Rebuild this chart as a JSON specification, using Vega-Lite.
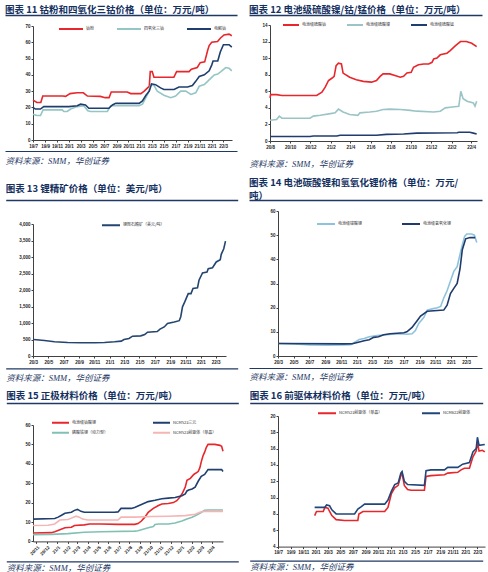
{
"$schema":"https://vega.github.io/schema/vega-lite/v6.json",
"padding":{"left":5,"top":4,"right":0,"bottom":0},
"background":"white",
"spacing":9,
"resolve":{"scale":{"color":"independent"},"legend":{"color":"independent"}},
"datasets":{
"u":[{"u":0},{"u":1}],
"p11":[
{"d":"2019-07-01","s":"钴粉","v":24.5},{"d":"2019-07-21","s":"钴粉","v":23},{"d":"2019-08-10","s":"钴粉","v":23},{"d":"2019-08-20","s":"钴粉","v":27},{"d":"2019-12-01","s":"钴粉","v":27},{"d":"2019-12-15","s":"钴粉","v":26.8},{"d":"2020-01-07","s":"钴粉","v":28.5},{"d":"2020-02-12","s":"钴粉","v":29},{"d":"2020-03-15","s":"钴粉","v":29},{"d":"2020-04-05","s":"钴粉","v":27},{"d":"2020-06-10","s":"钴粉","v":26.8},{"d":"2020-07-05","s":"钴粉","v":26},{"d":"2020-07-25","s":"钴粉","v":26},{"d":"2020-08-05","s":"钴粉","v":29.5},{"d":"2020-10-26","s":"钴粉","v":29.5},{"d":"2020-11-13","s":"钴粉","v":28.5},{"d":"2021-01-04","s":"钴粉","v":28.5},{"d":"2021-01-21","s":"钴粉","v":30},{"d":"2021-02-07","s":"钴粉","v":32},{"d":"2021-02-16","s":"钴粉","v":33},{"d":"2021-02-21","s":"钴粉","v":42},{"d":"2021-03-03","s":"钴粉","v":42},{"d":"2021-03-12","s":"钴粉","v":38.5},{"d":"2021-06-22","s":"钴粉","v":38.5},{"d":"2021-07-06","s":"钴粉","v":42},{"d":"2021-09-08","s":"钴粉","v":42},{"d":"2021-09-20","s":"钴粉","v":43.5},{"d":"2021-10-20","s":"钴粉","v":44.5},{"d":"2021-11-04","s":"钴粉","v":47.5},{"d":"2021-11-27","s":"钴粉","v":48},{"d":"2021-12-12","s":"钴粉","v":55},{"d":"2021-12-20","s":"钴粉","v":58},{"d":"2022-01-02","s":"钴粉","v":60},{"d":"2022-02-01","s":"钴粉","v":60.5},{"d":"2022-02-15","s":"钴粉","v":62.5},{"d":"2022-03-06","s":"钴粉","v":64.5},{"d":"2022-04-01","s":"钴粉","v":65},{"d":"2022-04-15","s":"钴粉","v":64},
{"d":"2019-07-01","s":"四氧化三钴","v":15.8},{"d":"2019-07-21","s":"四氧化三钴","v":15},{"d":"2019-08-08","s":"四氧化三钴","v":15},{"d":"2019-08-22","s":"四氧化三钴","v":18.5},{"d":"2019-11-28","s":"四氧化三钴","v":18.5},{"d":"2019-12-06","s":"四氧化三钴","v":17.5},{"d":"2019-12-23","s":"四氧化三钴","v":17.5},{"d":"2020-01-10","s":"四氧化三钴","v":19},{"d":"2020-02-13","s":"四氧化三钴","v":20.5},{"d":"2020-03-17","s":"四氧化三钴","v":21},{"d":"2020-04-07","s":"四氧化三钴","v":18},{"d":"2020-04-21","s":"四氧化三钴","v":17.5},{"d":"2020-07-16","s":"四氧化三钴","v":17.5},{"d":"2020-08-02","s":"四氧化三钴","v":21},{"d":"2020-12-26","s":"四氧化三钴","v":21},{"d":"2021-01-12","s":"四氧化三钴","v":22},{"d":"2021-01-21","s":"四氧化三钴","v":24},{"d":"2021-02-07","s":"四氧化三钴","v":28},{"d":"2021-02-24","s":"四氧化三钴","v":34},{"d":"2021-03-12","s":"四氧化三钴","v":33.5},{"d":"2021-03-29","s":"四氧化三钴","v":30},{"d":"2021-05-02","s":"四氧化三钴","v":27.5},{"d":"2021-06-06","s":"四氧化三钴","v":26},{"d":"2021-07-01","s":"四氧化三钴","v":27},{"d":"2021-07-27","s":"四氧化三钴","v":30},{"d":"2021-08-22","s":"四氧化三钴","v":30},{"d":"2021-09-17","s":"四氧化三钴","v":28},{"d":"2021-10-12","s":"四氧化三钴","v":29},{"d":"2021-10-30","s":"四氧化三钴","v":33},{"d":"2021-11-25","s":"四氧化三钴","v":34},{"d":"2021-12-12","s":"四氧化三钴","v":36},{"d":"2021-12-29","s":"四氧化三钴","v":38},{"d":"2022-01-15","s":"四氧化三钴","v":40},{"d":"2022-02-02","s":"四氧化三钴","v":40.5},{"d":"2022-02-18","s":"四氧化三钴","v":42},{"d":"2022-03-15","s":"四氧化三钴","v":44.5},{"d":"2022-04-01","s":"四氧化三钴","v":44},{"d":"2022-04-15","s":"四氧化三钴","v":42.5},
{"d":"2019-07-01","s":"电解钴","v":20},{"d":"2019-07-13","s":"电解钴","v":19},{"d":"2019-08-08","s":"电解钴","v":19},{"d":"2019-08-25","s":"电解钴","v":20.5},{"d":"2020-01-01","s":"电解钴","v":20.5},{"d":"2020-02-13","s":"电解钴","v":21},{"d":"2020-03-01","s":"电解钴","v":22},{"d":"2020-03-26","s":"电解钴","v":21.5},{"d":"2020-04-12","s":"电解钴","v":19.5},{"d":"2020-07-24","s":"电解钴","v":19.5},{"d":"2020-08-11","s":"电解钴","v":21.5},{"d":"2020-08-28","s":"电解钴","v":22.5},{"d":"2020-12-26","s":"电解钴","v":22.5},{"d":"2021-01-12","s":"电解钴","v":24},{"d":"2021-01-30","s":"电解钴","v":27.5},{"d":"2021-02-16","s":"电解钴","v":30},{"d":"2021-02-28","s":"电解钴","v":34.5},{"d":"2021-03-20","s":"电解钴","v":34},{"d":"2021-04-15","s":"电解钴","v":32},{"d":"2021-05-02","s":"电解钴","v":31},{"d":"2021-06-23","s":"电解钴","v":31},{"d":"2021-07-18","s":"电解钴","v":32.5},{"d":"2021-08-31","s":"电解钴","v":32.5},{"d":"2021-09-25","s":"电解钴","v":33.5},{"d":"2021-10-12","s":"电解钴","v":36},{"d":"2021-10-30","s":"电解钴","v":39},{"d":"2021-11-25","s":"电解钴","v":40},{"d":"2021-12-20","s":"电解钴","v":42.5},{"d":"2022-01-02","s":"电解钴","v":46},{"d":"2022-01-09","s":"电解钴","v":48.5},{"d":"2022-02-02","s":"电解钴","v":48.5},{"d":"2022-02-15","s":"电解钴","v":54},{"d":"2022-03-03","s":"电解钴","v":58.5},{"d":"2022-04-01","s":"电解钴","v":58.5},{"d":"2022-04-15","s":"电解钴","v":57}
],
"p12":[
{"d":"2020-08-01","s":"电池级硫酸钴","v":5.2},{"d":"2020-08-03","s":"电池级硫酸钴","v":5.6},{"d":"2020-08-21","s":"电池级硫酸钴","v":5.6},{"d":"2020-09-06","s":"电池级硫酸钴","v":5.5},{"d":"2020-10-11","s":"电池级硫酸钴","v":5.5},{"d":"2020-11-30","s":"电池级硫酸钴","v":5.5},{"d":"2020-12-20","s":"电池级硫酸钴","v":5.5},{"d":"2021-01-05","s":"电池级硫酸钴","v":5.9},{"d":"2021-01-15","s":"电池级硫酸钴","v":6.5},{"d":"2021-01-25","s":"电池级硫酸钴","v":7.3},{"d":"2021-02-05","s":"电池级硫酸钴","v":7.6},{"d":"2021-02-11","s":"电池级硫酸钴","v":7.8},{"d":"2021-02-17","s":"电池级硫酸钴","v":9.1},{"d":"2021-02-24","s":"电池级硫酸钴","v":9.4},{"d":"2021-03-05","s":"电池级硫酸钴","v":9.3},{"d":"2021-03-10","s":"电池级硫酸钴","v":8.2},{"d":"2021-03-30","s":"电池级硫酸钴","v":7.7},{"d":"2021-04-19","s":"电池级硫酸钴","v":7.4},{"d":"2021-05-10","s":"电池级硫酸钴","v":7.2},{"d":"2021-06-04","s":"电池级硫酸钴","v":7.1},{"d":"2021-06-19","s":"电池级硫酸钴","v":7.3},{"d":"2021-06-30","s":"电池级硫酸钴","v":7.8},{"d":"2021-07-09","s":"电池级硫酸钴","v":8.1},{"d":"2021-07-29","s":"电池级硫酸钴","v":8.1},{"d":"2021-08-14","s":"电池级硫酸钴","v":7.9},{"d":"2021-08-30","s":"电池级硫酸钴","v":7.7},{"d":"2021-09-09","s":"电池级硫酸钴","v":7.8},{"d":"2021-09-19","s":"电池级硫酸钴","v":8.2},{"d":"2021-10-02","s":"电池级硫酸钴","v":8.3},{"d":"2021-10-09","s":"电池级硫酸钴","v":8.9},{"d":"2021-10-24","s":"电池级硫酸钴","v":9.2},{"d":"2021-11-09","s":"电池级硫酸钴","v":9.3},{"d":"2021-11-24","s":"电池级硫酸钴","v":9.3},{"d":"2021-12-04","s":"电池级硫酸钴","v":9.5},{"d":"2021-12-09","s":"电池级硫酸钴","v":9.9},{"d":"2021-12-19","s":"电池级硫酸钴","v":10.0},{"d":"2021-12-29","s":"电池级硫酸钴","v":10.4},{"d":"2022-01-18","s":"电池级硫酸钴","v":10.6},{"d":"2022-01-28","s":"电池级硫酸钴","v":10.9},{"d":"2022-02-13","s":"电池级硫酸钴","v":11.5},{"d":"2022-02-28","s":"电池级硫酸钴","v":12.0},{"d":"2022-03-18","s":"电池级硫酸钴","v":12.0},{"d":"2022-04-03","s":"电池级硫酸钴","v":11.8},{"d":"2022-04-18","s":"电池级硫酸钴","v":11.4},
{"d":"2020-08-01","s":"电池级硫酸镍","v":2.5},{"d":"2020-08-21","s":"电池级硫酸镍","v":2.6},{"d":"2020-08-29","s":"电池级硫酸镍","v":3.0},{"d":"2020-09-06","s":"电池级硫酸镍","v":2.75},{"d":"2020-11-30","s":"电池级硫酸镍","v":2.75},{"d":"2020-12-10","s":"电池级硫酸镍","v":3.0},{"d":"2020-12-31","s":"电池级硫酸镍","v":3.1},{"d":"2021-01-31","s":"电池级硫酸镍","v":3.3},{"d":"2021-02-14","s":"电池级硫酸镍","v":3.4},{"d":"2021-02-24","s":"电池级硫酸镍","v":3.85},{"d":"2021-03-10","s":"电池级硫酸镍","v":3.5},{"d":"2021-03-30","s":"电池级硫酸镍","v":3.2},{"d":"2021-04-24","s":"电池级硫酸镍","v":3.1},{"d":"2021-04-30","s":"电池级硫酸镍","v":3.4},{"d":"2021-05-30","s":"电池级硫酸镍","v":3.5},{"d":"2021-06-19","s":"电池级硫酸镍","v":3.6},{"d":"2021-07-09","s":"电池级硫酸镍","v":3.8},{"d":"2021-07-29","s":"电池级硫酸镍","v":3.85},{"d":"2021-08-30","s":"电池级硫酸镍","v":3.8},{"d":"2021-09-29","s":"电池级硫酸镍","v":3.7},{"d":"2021-10-19","s":"电池级硫酸镍","v":3.6},{"d":"2021-12-09","s":"电池级硫酸镍","v":3.5},{"d":"2021-12-29","s":"电池级硫酸镍","v":3.6},{"d":"2022-01-13","s":"电池级硫酸镍","v":4.0},{"d":"2022-02-03","s":"电池级硫酸镍","v":4.1},{"d":"2022-02-23","s":"电池级硫酸镍","v":4.2},{"d":"2022-03-01","s":"电池级硫酸镍","v":6.0},{"d":"2022-03-08","s":"电池级硫酸镍","v":5.1},{"d":"2022-03-20","s":"电池级硫酸镍","v":4.8},{"d":"2022-04-08","s":"电池级硫酸镍","v":4.6},{"d":"2022-04-13","s":"电池级硫酸镍","v":4.2},{"d":"2022-04-18","s":"电池级硫酸镍","v":4.8},
{"d":"2020-08-01","s":"电池级硫酸锰","v":0.55},{"d":"2020-11-30","s":"电池级硫酸锰","v":0.55},{"d":"2020-12-10","s":"电池级硫酸锰","v":0.6},{"d":"2021-02-19","s":"电池级硫酸锰","v":0.6},{"d":"2021-03-01","s":"电池级硫酸锰","v":0.7},{"d":"2021-06-19","s":"电池级硫酸锰","v":0.7},{"d":"2021-07-19","s":"电池级硫酸锰","v":0.8},{"d":"2021-09-09","s":"电池级硫酸锰","v":0.85},{"d":"2021-10-19","s":"电池级硫酸锰","v":0.95},{"d":"2022-02-18","s":"电池级硫酸锰","v":1.0},{"d":"2022-02-23","s":"电池级硫酸锰","v":1.05},{"d":"2022-03-28","s":"电池级硫酸锰","v":1.05},{"d":"2022-04-08","s":"电池级硫酸锰","v":0.95},{"d":"2022-04-18","s":"电池级硫酸锰","v":0.85}
],
"p13":[
{"d":"2020-03-03","s":"锂辉石精矿（美元/吨）","v":500},{"d":"2020-04-16","s":"锂辉石精矿（美元/吨）","v":470},{"d":"2020-05-26","s":"锂辉石精矿（美元/吨）","v":430},{"d":"2020-07-18","s":"锂辉石精矿（美元/吨）","v":410},{"d":"2020-09-10","s":"锂辉石精矿（美元/吨）","v":400},{"d":"2020-11-02","s":"锂辉石精矿（美元/吨）","v":400},{"d":"2020-12-12","s":"锂辉石精矿（美元/吨）","v":410},{"d":"2021-01-21","s":"锂辉石精矿（美元/吨）","v":430},{"d":"2021-02-17","s":"锂辉石精矿（美元/吨）","v":450},{"d":"2021-02-28","s":"锂辉石精矿（美元/吨）","v":500},{"d":"2021-03-20","s":"锂辉石精矿（美元/吨）","v":530},{"d":"2021-04-03","s":"锂辉石精矿（美元/吨）","v":600},{"d":"2021-05-06","s":"锂辉石精矿（美元/吨）","v":610},{"d":"2021-05-22","s":"锂辉石精矿（美元/吨）","v":650},{"d":"2021-06-02","s":"锂辉石精矿（美元/吨）","v":720},{"d":"2021-07-11","s":"锂辉石精矿（美元/吨）","v":740},{"d":"2021-07-22","s":"锂辉石精矿（美元/吨）","v":815},{"d":"2021-08-08","s":"锂辉石精矿（美元/吨）","v":880},{"d":"2021-08-21","s":"锂辉石精矿（美元/吨）","v":985},{"d":"2021-09-17","s":"锂辉石精矿（美元/吨）","v":1030},{"d":"2021-10-07","s":"锂辉石精矿（美元/吨）","v":1070},{"d":"2021-10-13","s":"锂辉石精矿（美元/吨）","v":1190},{"d":"2021-10-20","s":"锂辉石精矿（美元/吨）","v":1490},{"d":"2021-10-29","s":"锂辉石精矿（美元/吨）","v":1640},{"d":"2021-11-12","s":"锂辉石精矿（美元/吨）","v":1890},{"d":"2021-11-23","s":"锂辉石精矿（美元/吨）","v":1890},{"d":"2021-12-01","s":"锂辉石精矿（美元/吨）","v":2045},{"d":"2021-12-19","s":"锂辉石精矿（美元/吨）","v":2065},{"d":"2021-12-25","s":"锂辉石精矿（美元/吨）","v":2295},{"d":"2022-01-08","s":"锂辉石精矿（美元/吨）","v":2515},{"d":"2022-01-26","s":"锂辉石精矿（美元/吨）","v":2545},{"d":"2022-01-31","s":"锂辉石精矿（美元/吨）","v":2645},{"d":"2022-02-17","s":"锂辉石精矿（美元/吨）","v":2675},{"d":"2022-03-04","s":"锂辉石精矿（美元/吨）","v":2850},{"d":"2022-03-20","s":"锂辉石精矿（美元/吨）","v":2915},{"d":"2022-03-24","s":"锂辉石精矿（美元/吨）","v":3080},{"d":"2022-04-03","s":"锂辉石精矿（美元/吨）","v":3250},{"d":"2022-04-10","s":"锂辉石精矿（美元/吨）","v":3480}
],
"p14":[
{"d":"2020-03-04","s":"电池级碳酸锂","v":5.2},{"d":"2020-05-02","s":"电池级碳酸锂","v":5.0},{"d":"2020-07-05","s":"电池级碳酸锂","v":4.6},{"d":"2020-09-08","s":"电池级碳酸锂","v":4.5},{"d":"2020-11-12","s":"电池级碳酸锂","v":4.6},{"d":"2020-12-08","s":"电池级碳酸锂","v":4.7},{"d":"2020-12-21","s":"电池级碳酸锂","v":5.5},{"d":"2021-01-10","s":"电池级碳酸锂","v":6.8},{"d":"2021-01-29","s":"电池级碳酸锂","v":7.2},{"d":"2021-02-18","s":"电池级碳酸锂","v":8.0},{"d":"2021-03-20","s":"电池级碳酸锂","v":8.5},{"d":"2021-04-28","s":"电池级碳酸锂","v":8.8},{"d":"2021-05-17","s":"电池级碳酸锂","v":9.0},{"d":"2021-06-19","s":"电池级碳酸锂","v":9.2},{"d":"2021-07-14","s":"电池级碳酸锂","v":9.0},{"d":"2021-08-03","s":"电池级碳酸锂","v":9.2},{"d":"2021-08-16","s":"电池级碳酸锂","v":10.5},{"d":"2021-08-29","s":"电池级碳酸锂","v":13.5},{"d":"2021-09-18","s":"电池级碳酸锂","v":16},{"d":"2021-10-01","s":"电池级碳酸锂","v":19},{"d":"2021-10-20","s":"电池级碳酸锂","v":19.5},{"d":"2021-11-09","s":"电池级碳酸锂","v":20},{"d":"2021-11-22","s":"电池级碳酸锂","v":20.5},{"d":"2021-12-04","s":"电池级碳酸锂","v":24},{"d":"2021-12-17","s":"电池级碳酸锂","v":27},{"d":"2021-12-30","s":"电池级碳酸锂","v":31},{"d":"2022-01-12","s":"电池级碳酸锂","v":35},{"d":"2022-01-25","s":"电池级碳酸锂","v":37},{"d":"2022-02-05","s":"电池级碳酸锂","v":42},{"d":"2022-02-14","s":"电池级碳酸锂","v":46},{"d":"2022-02-23","s":"电池级碳酸锂","v":49.5},{"d":"2022-03-03","s":"电池级碳酸锂","v":50.5},{"d":"2022-03-22","s":"电池级碳酸锂","v":50.5},{"d":"2022-04-02","s":"电池级碳酸锂","v":50},{"d":"2022-04-11","s":"电池级碳酸锂","v":47},
{"d":"2020-03-04","s":"电池级氢氧化锂","v":5.2},{"d":"2020-11-12","s":"电池级氢氧化锂","v":5.0},{"d":"2020-12-14","s":"电池级氢氧化锂","v":5.1},{"d":"2021-01-03","s":"电池级氢氧化锂","v":5.6},{"d":"2021-01-29","s":"电池级氢氧化锂","v":6.3},{"d":"2021-02-18","s":"电池级氢氧化锂","v":6.7},{"d":"2021-03-07","s":"电池级氢氧化锂","v":7.7},{"d":"2021-03-26","s":"电池级氢氧化锂","v":8.0},{"d":"2021-04-15","s":"电池级氢氧化锂","v":8.8},{"d":"2021-05-10","s":"电池级氢氧化锂","v":9.2},{"d":"2021-06-06","s":"电池级氢氧化锂","v":9.4},{"d":"2021-07-02","s":"电池级氢氧化锂","v":9.6},{"d":"2021-07-14","s":"电池级氢氧化锂","v":10.0},{"d":"2021-08-03","s":"电池级氢氧化锂","v":11.8},{"d":"2021-08-22","s":"电池级氢氧化锂","v":14.5},{"d":"2021-09-05","s":"电池级氢氧化锂","v":16.5},{"d":"2021-10-01","s":"电池级氢氧化锂","v":18.5},{"d":"2021-10-27","s":"电池级氢氧化锂","v":18.7},{"d":"2021-12-04","s":"电池级氢氧化锂","v":19.0},{"d":"2021-12-17","s":"电池级氢氧化锂","v":21},{"d":"2021-12-30","s":"电池级氢氧化锂","v":25.8},{"d":"2022-01-12","s":"电池级氢氧化锂","v":28},{"d":"2022-01-25","s":"电池级氢氧化锂","v":30},{"d":"2022-02-05","s":"电池级氢氧化锂","v":36},{"d":"2022-02-14","s":"电池级氢氧化锂","v":44},{"d":"2022-02-27","s":"电池级氢氧化锂","v":48.5},{"d":"2022-03-16","s":"电池级氢氧化锂","v":49},{"d":"2022-04-05","s":"电池级氢氧化锂","v":49}
],
"p15":[
{"d":"2020-10-22","s":"电池级钴酸锂","v":4.3},{"d":"2020-12-15","s":"电池级钴酸锂","v":4.5},{"d":"2020-12-25","s":"电池级钴酸锂","v":5},{"d":"2021-01-09","s":"电池级钴酸锂","v":6},{"d":"2021-01-24","s":"电池级钴酸锂","v":7},{"d":"2021-02-02","s":"电池级钴酸锂","v":7.2},{"d":"2021-02-12","s":"电池级钴酸锂","v":7.3},{"d":"2021-02-21","s":"电池级钴酸锂","v":8.2},{"d":"2021-03-22","s":"电池级钴酸锂","v":8.5},{"d":"2021-04-06","s":"电池级钴酸锂","v":9},{"d":"2021-05-10","s":"电池级钴酸锂","v":9},{"d":"2021-06-29","s":"电池级钴酸锂","v":8.8},{"d":"2021-08-17","s":"电池级钴酸锂","v":8.8},{"d":"2021-08-27","s":"电池级钴酸锂","v":9.2},{"d":"2021-09-06","s":"电池级钴酸锂","v":10.5},{"d":"2021-09-16","s":"电池级钴酸锂","v":12.5},{"d":"2021-09-26","s":"电池级钴酸锂","v":15},{"d":"2021-10-11","s":"电池级钴酸锂","v":17},{"d":"2021-10-26","s":"电池级钴酸锂","v":18.5},{"d":"2021-11-05","s":"电池级钴酸锂","v":19.3},{"d":"2021-11-24","s":"电池级钴酸锂","v":19.5},{"d":"2021-12-09","s":"电池级钴酸锂","v":20},{"d":"2021-12-19","s":"电池级钴酸锂","v":21},{"d":"2021-12-29","s":"电池级钴酸锂","v":23},{"d":"2022-01-05","s":"电池级钴酸锂","v":25},{"d":"2022-01-13","s":"电池级钴酸锂","v":28},{"d":"2022-01-18","s":"电池级钴酸锂","v":31.5},{"d":"2022-01-28","s":"电池级钴酸锂","v":32.5},{"d":"2022-02-07","s":"电池级钴酸锂","v":34.5},{"d":"2022-02-20","s":"电池级钴酸锂","v":36},{"d":"2022-02-25","s":"电池级钴酸锂","v":38},{"d":"2022-03-01","s":"电池级钴酸锂","v":41},{"d":"2022-03-06","s":"电池级钴酸锂","v":44},{"d":"2022-03-11","s":"电池级钴酸锂","v":46},{"d":"2022-03-16","s":"电池级钴酸锂","v":48.5},{"d":"2022-03-21","s":"电池级钴酸锂","v":50},{"d":"2022-04-10","s":"电池级钴酸锂","v":50},{"d":"2022-04-25","s":"电池级钴酸锂","v":49.5},{"d":"2022-04-30","s":"电池级钴酸锂","v":49},{"d":"2022-05-04","s":"电池级钴酸锂","v":46.5},
{"d":"2020-10-22","s":"NCM523三元","v":11.5},{"d":"2020-12-25","s":"NCM523三元","v":11.8},{"d":"2021-01-04","s":"NCM523三元","v":12.5},{"d":"2021-01-14","s":"NCM523三元","v":13.5},{"d":"2021-01-24","s":"NCM523三元","v":14.5},{"d":"2021-02-12","s":"NCM523三元","v":15},{"d":"2021-02-21","s":"NCM523三元","v":16},{"d":"2021-03-02","s":"NCM523三元","v":16.5},{"d":"2021-03-12","s":"NCM523三元","v":15.5},{"d":"2021-03-22","s":"NCM523三元","v":15},{"d":"2021-06-19","s":"NCM523三元","v":15},{"d":"2021-06-29","s":"NCM523三元","v":15.2},{"d":"2021-07-08","s":"NCM523三元","v":17},{"d":"2021-08-07","s":"NCM523三元","v":17},{"d":"2021-08-17","s":"NCM523三元","v":17.5},{"d":"2021-09-06","s":"NCM523三元","v":19},{"d":"2021-09-26","s":"NCM523三元","v":20.5},{"d":"2021-10-16","s":"NCM523三元","v":21.2},{"d":"2021-11-05","s":"NCM523三元","v":22},{"d":"2021-11-24","s":"NCM523三元","v":22.3},{"d":"2021-12-14","s":"NCM523三元","v":22.6},{"d":"2022-01-03","s":"NCM523三元","v":23.5},{"d":"2022-01-13","s":"NCM523三元","v":24.5},{"d":"2022-01-18","s":"NCM523三元","v":26},{"d":"2022-01-23","s":"NCM523三元","v":26.5},{"d":"2022-02-02","s":"NCM523三元","v":27},{"d":"2022-02-11","s":"NCM523三元","v":28},{"d":"2022-02-20","s":"NCM523三元","v":31},{"d":"2022-03-01","s":"NCM523三元","v":33.5},{"d":"2022-03-11","s":"NCM523三元","v":34.5},{"d":"2022-03-21","s":"NCM523三元","v":37},{"d":"2022-04-10","s":"NCM523三元","v":37},{"d":"2022-04-30","s":"NCM523三元","v":37},{"d":"2022-05-04","s":"NCM523三元","v":36},
{"d":"2020-10-22","s":"磷酸铁锂（动力型）","v":3.5},{"d":"2020-12-15","s":"磷酸铁锂（动力型）","v":3.6},{"d":"2021-02-02","s":"磷酸铁锂（动力型）","v":4},{"d":"2021-03-22","s":"磷酸铁锂（动力型）","v":4.7},{"d":"2021-05-10","s":"磷酸铁锂（动力型）","v":5},{"d":"2021-08-17","s":"磷酸铁锂（动力型）","v":5.3},{"d":"2021-08-27","s":"磷酸铁锂（动力型）","v":5.5},{"d":"2021-09-06","s":"磷酸铁锂（动力型）","v":6},{"d":"2021-09-26","s":"磷酸铁锂（动力型）","v":7},{"d":"2021-10-11","s":"磷酸铁锂（动力型）","v":7.7},{"d":"2021-10-16","s":"磷酸铁锂（动力型）","v":8.7},{"d":"2021-10-26","s":"磷酸铁锂（动力型）","v":9},{"d":"2021-11-24","s":"磷酸铁锂（动力型）","v":9},{"d":"2021-12-14","s":"磷酸铁锂（动力型）","v":9.5},{"d":"2022-01-03","s":"磷酸铁锂（动力型）","v":10.5},{"d":"2022-01-18","s":"磷酸铁锂（动力型）","v":11.5},{"d":"2022-02-02","s":"磷酸铁锂（动力型）","v":12.5},{"d":"2022-02-11","s":"磷酸铁锂（动力型）","v":13.2},{"d":"2022-02-25","s":"磷酸铁锂（动力型）","v":14.5},{"d":"2022-03-11","s":"磷酸铁锂（动力型）","v":16},{"d":"2022-03-21","s":"磷酸铁锂（动力型）","v":16.2},{"d":"2022-05-04","s":"磷酸铁锂（动力型）","v":16.2},
{"d":"2020-10-22","s":"NCM523前驱体（单晶）","v":8.2},{"d":"2020-12-05","s":"NCM523前驱体（单晶）","v":8.3},{"d":"2020-12-25","s":"NCM523前驱体（单晶）","v":9},{"d":"2021-01-09","s":"NCM523前驱体（单晶）","v":11},{"d":"2021-02-02","s":"NCM523前驱体（单晶）","v":11.3},{"d":"2021-02-12","s":"NCM523前驱体（单晶）","v":12},{"d":"2021-02-26","s":"NCM523前驱体（单晶）","v":13},{"d":"2021-03-07","s":"NCM523前驱体（单晶）","v":12.5},{"d":"2021-03-17","s":"NCM523前驱体（单晶）","v":11.5},{"d":"2021-04-01","s":"NCM523前驱体（单晶）","v":11},{"d":"2021-06-29","s":"NCM523前驱体（单晶）","v":11},{"d":"2021-07-08","s":"NCM523前驱体（单晶）","v":12.5},{"d":"2021-08-17","s":"NCM523前驱体（单晶）","v":12.5},{"d":"2021-10-06","s":"NCM523前驱体（单晶）","v":12.8},{"d":"2021-11-24","s":"NCM523前驱体（单晶）","v":13},{"d":"2022-01-13","s":"NCM523前驱体（单晶）","v":13.3},{"d":"2022-02-11","s":"NCM523前驱体（单晶）","v":14},{"d":"2022-02-25","s":"NCM523前驱体（单晶）","v":15},{"d":"2022-03-11","s":"NCM523前驱体（单晶）","v":15.5},{"d":"2022-05-04","s":"NCM523前驱体（单晶）","v":15.5}
],
"p16":[
{"d":"2019-12-27","s":"NCM523前驱体（单晶）","v":7.8},{"d":"2020-01-05","s":"NCM523前驱体（单晶）","v":8.3},{"d":"2020-02-07","s":"NCM523前驱体（单晶）","v":8.3},{"d":"2020-02-15","s":"NCM523前驱体（单晶）","v":8.8},{"d":"2020-03-01","s":"NCM523前驱体（单晶）","v":8.7},{"d":"2020-03-09","s":"NCM523前驱体（单晶）","v":8.3},{"d":"2020-03-20","s":"NCM523前驱体（单晶）","v":7.8},{"d":"2020-04-10","s":"NCM523前驱体（单晶）","v":7.3},{"d":"2020-05-21","s":"NCM523前驱体（单晶）","v":7.2},{"d":"2020-07-25","s":"NCM523前驱体（单晶）","v":7.2},{"d":"2020-07-30","s":"NCM523前驱体（单晶）","v":8},{"d":"2020-08-19","s":"NCM523前驱体（单晶）","v":8.3},{"d":"2020-11-01","s":"NCM523前驱体（单晶）","v":8.3},{"d":"2020-12-03","s":"NCM523前驱体（单晶）","v":8.3},{"d":"2020-12-19","s":"NCM523前驱体（单晶）","v":8.8},{"d":"2021-01-05","s":"NCM523前驱体（单晶）","v":10.5},{"d":"2021-01-21","s":"NCM523前驱体（单晶）","v":11.2},{"d":"2021-02-07","s":"NCM523前驱体（单晶）","v":11.5},{"d":"2021-02-20","s":"NCM523前驱体（单晶）","v":12.7},{"d":"2021-02-26","s":"NCM523前驱体（单晶）","v":13},{"d":"2021-03-09","s":"NCM523前驱体（单晶）","v":11.5},{"d":"2021-03-25","s":"NCM523前驱体（单晶）","v":11},{"d":"2021-04-11","s":"NCM523前驱体（单晶）","v":10.9},{"d":"2021-06-15","s":"NCM523前驱体（单晶）","v":10.9},{"d":"2021-06-23","s":"NCM523前驱体（单晶）","v":12.6},{"d":"2021-07-17","s":"NCM523前驱体（单晶）","v":12.7},{"d":"2021-09-21","s":"NCM523前驱体（单晶）","v":12.8},{"d":"2021-10-07","s":"NCM523前驱体（单晶）","v":13},{"d":"2021-11-25","s":"NCM523前驱体（单晶）","v":13.1},{"d":"2021-12-11","s":"NCM523前驱体（单晶）","v":13.4},{"d":"2021-12-27","s":"NCM523前驱体（单晶）","v":13.6},{"d":"2022-01-21","s":"NCM523前驱体（单晶）","v":13.6},{"d":"2022-02-07","s":"NCM523前驱体（单晶）","v":15},{"d":"2022-02-23","s":"NCM523前驱体（单晶）","v":15.7},{"d":"2022-03-01","s":"NCM523前驱体（单晶）","v":16.8},{"d":"2022-03-09","s":"NCM523前驱体（单晶）","v":15.7},{"d":"2022-03-25","s":"NCM523前驱体（单晶）","v":15.8},{"d":"2022-04-06","s":"NCM523前驱体（单晶）","v":15.6},
{"d":"2019-12-27","s":"NCM622前驱体","v":8.8},{"d":"2020-02-15","s":"NCM622前驱体","v":8.8},{"d":"2020-02-23","s":"NCM622前驱体","v":9.1},{"d":"2020-03-09","s":"NCM622前驱体","v":9.0},{"d":"2020-03-20","s":"NCM622前驱体","v":8.5},{"d":"2020-04-10","s":"NCM622前驱体","v":8.0},{"d":"2020-07-09","s":"NCM622前驱体","v":8.0},{"d":"2020-07-25","s":"NCM622前驱体","v":8.6},{"d":"2020-08-11","s":"NCM622前驱体","v":8.9},{"d":"2020-08-27","s":"NCM622前驱体","v":9.2},{"d":"2020-12-03","s":"NCM622前驱体","v":9.2},{"d":"2020-12-19","s":"NCM622前驱体","v":9.7},{"d":"2021-01-05","s":"NCM622前驱体","v":10.8},{"d":"2021-01-21","s":"NCM622前驱体","v":11.6},{"d":"2021-02-07","s":"NCM622前驱体","v":11.8},{"d":"2021-02-20","s":"NCM622前驱体","v":13},{"d":"2021-02-26","s":"NCM622前驱体","v":13.2},{"d":"2021-03-09","s":"NCM622前驱体","v":12},{"d":"2021-03-25","s":"NCM622前驱体","v":11.6},{"d":"2021-06-15","s":"NCM622前驱体","v":11.5},{"d":"2021-06-23","s":"NCM622前驱体","v":13.3},{"d":"2021-07-17","s":"NCM622前驱体","v":13.4},{"d":"2021-09-21","s":"NCM622前驱体","v":13.4},{"d":"2021-10-07","s":"NCM622前驱体","v":13.7},{"d":"2021-11-25","s":"NCM622前驱体","v":13.7},{"d":"2021-12-19","s":"NCM622前驱体","v":14.1},{"d":"2022-01-21","s":"NCM622前驱体","v":14.3},{"d":"2022-02-07","s":"NCM622前驱体","v":15.6},{"d":"2022-02-23","s":"NCM622前驱体","v":16},{"d":"2022-03-01","s":"NCM622前驱体","v":17.4},{"d":"2022-03-09","s":"NCM622前驱体","v":16.4},{"d":"2022-04-06","s":"NCM622前驱体","v":16.5}
]
},
"vconcat":[
{"hconcat":[
 {"vconcat":[
  {"width":204,"height":8,"data":{"name":"u"},"mark":{"type":"point","size":0,"opacity":0},
   "encoding":{"x":{"field":"u","type":"quantitative","scale":{"domain":[0,1],"range":[-28,204],"nice":false},"axis":{"orient":"top","domainColor":"#1f3864","domainWidth":1.5,"ticks":false,"labels":false,"title":null}}},
   "title":{"text":"图表 11 钴粉和四氧化三钴价格（单位：万元/吨）","offset":0.75,"frame":"bounds"}},
  {"width":199,"height":114,"data":{"name":"p11"},"mark":{"type":"line","strokeWidth":1.6},
   "encoding":{
    "x":{"field":"d","type":"temporal","scale":{"domain":[{"year":2019,"month":7,"date":1},{"year":2022,"month":4,"date":16}],"nice":false},
     "axis":{"title":null,"format":"%y/%-m","minExtent":8,"values":[{"year":2019,"month":7,"date":1},{"year":2019,"month":9,"date":1},{"year":2019,"month":11,"date":1},{"year":2020,"month":1,"date":1},{"year":2020,"month":3,"date":1},{"year":2020,"month":5,"date":1},{"year":2020,"month":7,"date":1},{"year":2020,"month":9,"date":1},{"year":2020,"month":11,"date":1},{"year":2021,"month":1,"date":1},{"year":2021,"month":3,"date":1},{"year":2021,"month":5,"date":1},{"year":2021,"month":7,"date":1},{"year":2021,"month":9,"date":1},{"year":2021,"month":11,"date":1},{"year":2022,"month":1,"date":1},{"year":2022,"month":3,"date":1}]}},
    "y":{"field":"v","type":"quantitative","scale":{"domain":[0,70],"nice":false},"axis":{"title":null,"values":[0,10,20,30,40,50,60,70],"minExtent":28}},
    "color":{"field":"s","type":"nominal","scale":{"domain":["钴粉","四氧化三钴","电解钴"],"range":["#e8262b","#93c6c4","#1e3f6e"]},
     "legend":{"title":null,"legendX":25,"legendY":0,"columns":3,"columnPadding":22,"symbolSize":576}}}},
  {"width":204,"height":3,"data":{"name":"u"},"mark":{"type":"point","size":0,"opacity":0},
   "encoding":{"x":{"field":"u","type":"quantitative","scale":{"domain":[0,1],"range":[-28,204],"nice":false},"axis":{"orient":"bottom","domainColor":"#1f3864","domainWidth":1.2,"ticks":false,"labels":false,"title":"资料来源：SMM，华创证券","titlePadding":5.75}}}}
 ],"spacing":0,"resolve":{"scale":{"color":"independent"},"legend":{"color":"independent"}}},
 {"vconcat":[
  {"width":212,"height":7,"data":{"name":"u"},"mark":{"type":"point","size":0,"opacity":0},
   "encoding":{"x":{"field":"u","type":"quantitative","scale":{"domain":[0,1],"range":[-21,212],"nice":false},"axis":{"orient":"top","domainColor":"#1f3864","domainWidth":1.5,"ticks":false,"labels":false,"title":null}}},
   "title":{"text":"图表 12 电池级硫酸镍/钴/锰价格（单位：万元/吨）","offset":0.75,"frame":"bounds"}},
  {"width":207,"height":116,"data":{"name":"p12"},"mark":{"type":"line","strokeWidth":1.6},
   "encoding":{
    "x":{"field":"d","type":"temporal","scale":{"domain":[{"year":2020,"month":8,"date":1},{"year":2022,"month":4,"date":19}],"nice":false},
     "axis":{"title":null,"format":"%y/%-m","minExtent":8,"values":[{"year":2020,"month":8,"date":1},{"year":2020,"month":10,"date":1},{"year":2020,"month":12,"date":1},{"year":2021,"month":2,"date":1},{"year":2021,"month":4,"date":1},{"year":2021,"month":6,"date":1},{"year":2021,"month":8,"date":1},{"year":2021,"month":10,"date":1},{"year":2021,"month":12,"date":1},{"year":2022,"month":2,"date":1},{"year":2022,"month":4,"date":1}]}},
    "y":{"field":"v","type":"quantitative","scale":{"domain":[0,14],"nice":false},"axis":{"title":null,"values":[0,2,4,6,8,10,12,14],"minExtent":21}},
    "color":{"field":"s","type":"nominal","scale":{"domain":["电池级硫酸钴","电池级硫酸镍","电池级硫酸锰"],"range":["#e8262b","#9bc4c7","#1f3d6e"]},
     "legend":{"title":null,"legendX":12,"legendY":-3,"columns":3,"columnPadding":20,"symbolSize":256}}}},
  {"width":212,"height":2.3,"data":{"name":"u"},"mark":{"type":"point","size":0,"opacity":0},
   "encoding":{"x":{"field":"u","type":"quantitative","scale":{"domain":[0,1],"range":[-21,212],"nice":false},"axis":{"orient":"bottom","domain":false,"ticks":false,"labels":false,"title":"资料来源：SMM，华创证券","titlePadding":7.75}}}}
 ],"spacing":0,"resolve":{"scale":{"color":"independent"},"legend":{"color":"independent"}}}
],"spacing":-16,"resolve":{"scale":{"color":"independent"},"legend":{"color":"independent"}}},
{"hconcat":[
 {"vconcat":[
  {"width":205,"height":20.2,"data":{"name":"u"},"mark":{"type":"point","size":0,"opacity":0},
   "encoding":{"x":{"field":"u","type":"quantitative","scale":{"domain":[0,1],"range":[-27.3,204.7],"nice":false},"axis":{"orient":"top","domainColor":"#1f3864","domainWidth":1.5,"ticks":false,"labels":false,"title":null}}},
   "title":{"text":["","图表 13 锂精矿价格（单位：美元/吨）"],"lineHeight":6.5,"offset":7,"frame":"bounds"}},
  {"width":193,"height":132,"data":{"name":"p13"},"mark":{"type":"line","strokeWidth":1.6},
   "encoding":{
    "x":{"field":"d","type":"temporal","scale":{"domain":[{"year":2020,"month":3,"date":1},{"year":2022,"month":4,"date":12}],"nice":false},
     "axis":{"title":null,"format":"%y/%-m","minExtent":8,"values":[{"year":2020,"month":3,"date":1},{"year":2020,"month":5,"date":1},{"year":2020,"month":7,"date":1},{"year":2020,"month":9,"date":1},{"year":2020,"month":11,"date":1},{"year":2021,"month":1,"date":1},{"year":2021,"month":3,"date":1},{"year":2021,"month":5,"date":1},{"year":2021,"month":7,"date":1},{"year":2021,"month":9,"date":1},{"year":2021,"month":11,"date":1},{"year":2022,"month":1,"date":1},{"year":2022,"month":3,"date":1}]}},
    "y":{"field":"v","type":"quantitative","scale":{"domain":[0,4000],"nice":false},"axis":{"title":null,"format":",.0f","values":[0,500,1000,1500,2000,2500,3000,3500,4000],"minExtent":27.3}},
    "color":{"field":"s","type":"nominal","scale":{"domain":["锂辉石精矿（美元/吨）"],"range":["#24456f"]},
     "legend":{"title":null,"legendX":68,"legendY":-1.7,"columns":1,"symbolSize":324}}}},
  {"width":205,"height":4.3,"data":{"name":"u"},"mark":{"type":"point","size":0,"opacity":0},
   "encoding":{"x":{"field":"u","type":"quantitative","scale":{"domain":[0,1],"range":[-27.3,204.7],"nice":false},"axis":{"orient":"bottom","domainColor":"#1f3864","domainWidth":1.2,"ticks":false,"labels":false,"title":"资料来源：SMM，华创证券","titlePadding":4.75}}}}
 ],"spacing":0,"resolve":{"scale":{"color":"independent"},"legend":{"color":"independent"}}},
 {"vconcat":[
  {"width":204,"height":7.5,"data":{"name":"u"},"mark":{"type":"point","size":0,"opacity":0},
   "encoding":{"x":{"field":"u","type":"quantitative","scale":{"domain":[0,1],"range":[-29,204],"nice":false},"axis":{"orient":"top","domainColor":"#1f3864","domainWidth":1.5,"ticks":false,"labels":false,"title":null}}},
   "title":{"text":["图表 14 电池碳酸锂和氢氧化锂价格（单位：万元/","吨）"],"lineHeight":13,"offset":0,"frame":"bounds"}},
  {"width":199,"height":145,"data":{"name":"p14"},"mark":{"type":"line","strokeWidth":1.6},
   "encoding":{
    "x":{"field":"d","type":"temporal","scale":{"domain":[{"year":2020,"month":3,"date":1},{"year":2022,"month":4,"date":12}],"nice":false},
     "axis":{"title":null,"format":"%y/%-m","minExtent":8,"values":[{"year":2020,"month":3,"date":1},{"year":2020,"month":5,"date":1},{"year":2020,"month":7,"date":1},{"year":2020,"month":9,"date":1},{"year":2020,"month":11,"date":1},{"year":2021,"month":1,"date":1},{"year":2021,"month":3,"date":1},{"year":2021,"month":5,"date":1},{"year":2021,"month":7,"date":1},{"year":2021,"month":9,"date":1},{"year":2021,"month":11,"date":1},{"year":2022,"month":1,"date":1},{"year":2022,"month":3,"date":1}]}},
    "y":{"field":"v","type":"quantitative","scale":{"domain":[0,60],"nice":false},"axis":{"title":null,"values":[0,10,20,30,40,50,60],"minExtent":29}},
    "color":{"field":"s","type":"nominal","scale":{"domain":["电池级碳酸锂","电池级氢氧化锂"],"range":["#8ec3dd","#1f3a6b"]},
     "legend":{"title":null,"legendX":38,"legendY":10,"columns":2,"columnPadding":39,"symbolSize":324}}}},
  {"width":204,"height":4,"data":{"name":"u"},"mark":{"type":"point","size":0,"opacity":0},
   "encoding":{"x":{"field":"u","type":"quantitative","scale":{"domain":[0,1],"range":[-29,204],"nice":false},"axis":{"orient":"bottom","domainColor":"#1f3864","domainWidth":1.2,"ticks":false,"labels":false,"title":"资料来源：SMM，华创证券","titlePadding":4.75}}}}
 ],"spacing":0,"resolve":{"scale":{"color":"independent"},"legend":{"color":"independent"}}}
],"spacing":-16,"resolve":{"scale":{"color":"independent"},"legend":{"color":"independent"}}},
{"hconcat":[
 {"vconcat":[
  {"width":205,"height":16,"data":{"name":"u"},"mark":{"type":"point","size":0,"opacity":0},
   "encoding":{"x":{"field":"u","type":"quantitative","scale":{"domain":[0,1],"range":[-26.7,205.3],"nice":false},"axis":{"orient":"top","domainColor":"#1f3864","domainWidth":1.5,"ticks":false,"labels":false,"title":null}}},
   "title":{"text":"图表 15 正极材料价格（单位：万元/吨）","offset":2.5,"frame":"bounds"}},
  {"width":190,"height":116.4,"data":{"name":"p15"},"mark":{"type":"line","strokeWidth":1.6},
   "encoding":{
    "x":{"field":"d","type":"temporal","scale":{"domain":[{"year":2020,"month":10,"date":22},{"year":2022,"month":5,"date":4}],"nice":false},
     "axis":{"title":null,"format":"%y/%-m","labelAngle":-45,"minExtent":15,"values":[{"year":2020,"month":11,"date":1},{"year":2020,"month":12,"date":1},{"year":2021,"month":1,"date":1},{"year":2021,"month":2,"date":1},{"year":2021,"month":3,"date":1},{"year":2021,"month":4,"date":1},{"year":2021,"month":5,"date":1},{"year":2021,"month":6,"date":1},{"year":2021,"month":7,"date":1},{"year":2021,"month":8,"date":1},{"year":2021,"month":9,"date":1},{"year":2021,"month":10,"date":1},{"year":2021,"month":11,"date":1},{"year":2021,"month":12,"date":1},{"year":2022,"month":1,"date":1},{"year":2022,"month":2,"date":1},{"year":2022,"month":3,"date":1},{"year":2022,"month":4,"date":1}]}},
    "y":{"field":"v","type":"quantitative","scale":{"domain":[0,60],"nice":false},"axis":{"title":null,"values":[0,10,20,30,40,50,60],"minExtent":26.7}},
    "color":{"field":"s","type":"nominal","scale":{"domain":["电池级钴酸锂","NCM523三元","磷酸铁锂（动力型）","NCM523前驱体（单晶）"],"range":["#e8262b","#1f3f70","#82c0b5","#f5b5b5"]},
     "legend":{"title":null,"legendX":18,"legendY":-5.3,"columns":2,"columnPadding":44,"rowPadding":4,"symbolSize":289}}}},
  {"width":205,"height":4.3,"data":{"name":"u"},"mark":{"type":"point","size":0,"opacity":0},
   "encoding":{"x":{"field":"u","type":"quantitative","scale":{"domain":[0,1],"range":[-26.7,205.3],"nice":false},"axis":{"orient":"bottom","domainColor":"#1f3864","domainWidth":1.2,"ticks":false,"labels":false,"title":"资料来源：SMM，华创证券","titlePadding":1.75}}}}
 ],"spacing":0,"resolve":{"scale":{"color":"independent"},"legend":{"color":"independent"}}},
 {"vconcat":[
  {"width":205,"height":7,"data":{"name":"u"},"mark":{"type":"point","size":0,"opacity":0},
   "encoding":{"x":{"field":"u","type":"quantitative","scale":{"domain":[0,1],"range":[-28.3,204.7],"nice":false},"axis":{"orient":"top","domainColor":"#1f3864","domainWidth":1.5,"ticks":false,"labels":false,"title":null}}},
   "title":{"text":"图表 16 前驱体材料价格（单位：万元/吨）","offset":2.5,"frame":"bounds"}},
  {"width":207,"height":130.6,"data":{"name":"p16"},"mark":{"type":"line","strokeWidth":1.6},
   "encoding":{
    "x":{"field":"d","type":"temporal","scale":{"domain":[{"year":2019,"month":7,"date":1},{"year":2022,"month":4,"date":7}],"nice":false},
     "axis":{"title":null,"format":"%y/%-m","minExtent":8,"values":[{"year":2019,"month":7,"date":1},{"year":2019,"month":9,"date":1},{"year":2019,"month":11,"date":1},{"year":2020,"month":1,"date":1},{"year":2020,"month":3,"date":1},{"year":2020,"month":5,"date":1},{"year":2020,"month":7,"date":1},{"year":2020,"month":9,"date":1},{"year":2020,"month":11,"date":1},{"year":2021,"month":1,"date":1},{"year":2021,"month":3,"date":1},{"year":2021,"month":5,"date":1},{"year":2021,"month":7,"date":1},{"year":2021,"month":9,"date":1},{"year":2021,"month":11,"date":1},{"year":2022,"month":1,"date":1},{"year":2022,"month":3,"date":1}]}},
    "y":{"field":"v","type":"quantitative","scale":{"domain":[4,20],"nice":false,"zero":false},"axis":{"title":null,"values":[4,6,8,10,12,14,16,18,20],"minExtent":28.3}},
    "color":{"field":"s","type":"nominal","scale":{"domain":["NCM523前驱体（单晶）","NCM622前驱体"],"range":["#e8262b","#21467a"]},
     "legend":{"title":null,"legendX":39,"legendY":-5.7,"columns":2,"columnPadding":38,"symbolSize":324}}}},
  {"width":205,"height":5.7,"data":{"name":"u"},"mark":{"type":"point","size":0,"opacity":0},
   "encoding":{"x":{"field":"u","type":"quantitative","scale":{"domain":[0,1],"range":[-28.3,204.7],"nice":false},"axis":{"orient":"bottom","domainColor":"#1f3864","domainWidth":1.2,"ticks":false,"labels":false,"title":"资料来源：SMM，华创证券","titlePadding":1.75}}}}
 ],"spacing":0,"resolve":{"scale":{"color":"independent"},"legend":{"color":"independent"}}}
],"spacing":-16,"resolve":{"scale":{"color":"independent"},"legend":{"color":"independent"}}}
],
"config":{
 "view":{"stroke":null},
 "font":"Noto Sans CJK SC",
 "title":{"anchor":"start","fontSize":9.5,"fontWeight":"bold","color":"#14305f","font":"Noto Sans CJK SC"},
 "axis":{"grid":false,"labelFont":"Liberation Sans","labelFontSize":4.5,"labelFontWeight":"bold","labelColor":"#222222","tickSize":2,"tickColor":"#404040","domainColor":"#404040","domainWidth":1,"labelFlush":false,"labelOverlap":false,"labelPadding":1,
  "titleAnchor":"start","titleAlign":"left","titleFont":"Liberation Serif, Noto Sans CJK SC","titleFontSize":8.5,"titleFontStyle":"italic","titleFontWeight":"normal","titleColor":"#1f3864"},
 "legend":{"orient":"none","direction":"horizontal","symbolType":"stroke","symbolStrokeWidth":2,"labelFont":"Noto Sans CJK SC","labelFontSize":4,"labelColor":"#333333","labelOffset":2,"padding":0,"clipHeight":6,"rowPadding":4}
}
}
